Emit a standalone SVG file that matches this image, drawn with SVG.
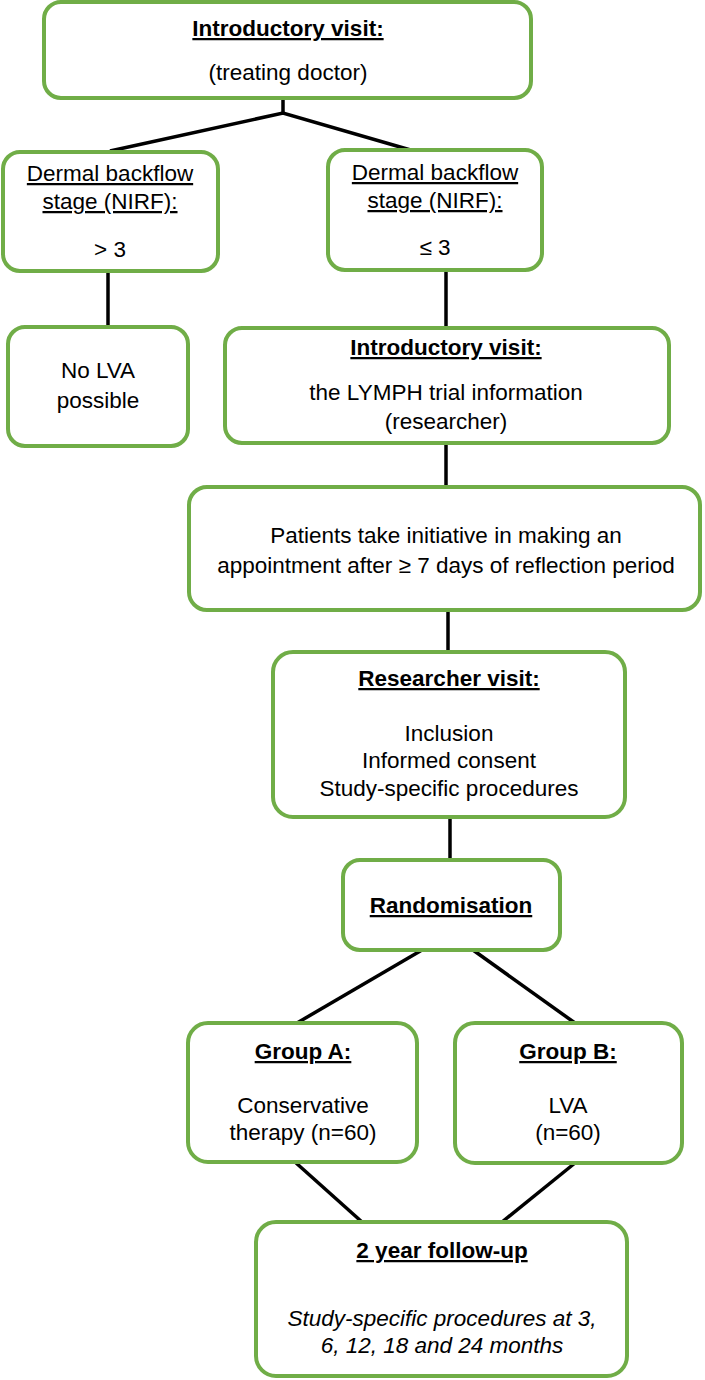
<svg xmlns="http://www.w3.org/2000/svg" width="705" height="1380" viewBox="0 0 705 1380">
<style>
.box{fill:#fff;stroke:#70AD47;stroke-width:4}
.con{stroke:#000;stroke-width:3.5;fill:none;stroke-linecap:butt;stroke-linejoin:miter}
text{font-family:"Liberation Sans",Arial,sans-serif;font-size:22.5px;fill:#000;text-anchor:middle}
.t{font-weight:bold;text-decoration:underline}
.u{text-decoration:underline}
.i{font-style:italic}
</style>
<rect width="705" height="1380" fill="#fff"/>
<g id="connectors">
<polyline class="con" points="283,98 283,113"/>
<polyline class="con" points="110,151 283,113 414,151"/>
<line class="con" x1="108" y1="271" x2="108" y2="327"/>
<line class="con" x1="446" y1="270" x2="446" y2="328"/>
<line class="con" x1="446" y1="443" x2="446" y2="487"/>
<line class="con" x1="448" y1="610" x2="448" y2="652"/>
<line class="con" x1="450" y1="817" x2="450" y2="860"/>
<line class="con" x1="422" y1="950" x2="297" y2="1023"/>
<line class="con" x1="473" y1="950" x2="575" y2="1023"/>
<line class="con" x1="295" y1="1162" x2="362" y2="1222"/>
<line class="con" x1="575" y1="1163" x2="502" y2="1222"/>
</g>
<g id="n1">
<rect class="box" x="44" y="2" width="487" height="96" rx="17"/>
<text x="288" y="36" class="t">Introductory visit:</text>
<text x="288" y="80">(treating doctor)</text>
</g>
<g id="n2">
<rect class="box" x="3" y="152" width="215" height="119" rx="17"/>
<text x="110" y="181" class="u">Dermal backflow</text>
<text x="110" y="209" class="u">stage (NIRF):</text>
<text x="110" y="257">&gt; 3</text>
</g>
<g id="n3">
<rect class="box" x="328" y="150" width="214" height="120" rx="17"/>
<text x="435" y="180" class="u">Dermal backflow</text>
<text x="435" y="208" class="u">stage (NIRF):</text>
<text x="435" y="255">≤ 3</text>
</g>
<g id="n4">
<rect class="box" x="8" y="327" width="180" height="119" rx="17"/>
<text x="98" y="378">No LVA</text>
<text x="98" y="408">possible</text>
</g>
<g id="n5">
<rect class="box" x="225" y="328" width="444" height="115" rx="17"/>
<text x="446" y="355" class="t">Introductory visit:</text>
<text x="446" y="400">the LYMPH trial information</text>
<text x="446" y="429">(researcher)</text>
</g>
<g id="n6">
<rect class="box" x="189" y="487" width="511" height="123" rx="18"/>
<text x="446" y="543">Patients take initiative in making an</text>
<text x="446" y="573">appointment after ≥ 7 days of reflection period</text>
</g>
<g id="n7">
<rect class="box" x="273" y="652" width="352" height="165" rx="20"/>
<text x="449" y="686" class="t">Researcher visit:</text>
<text x="449" y="741">Inclusion</text>
<text x="449" y="768">Informed consent</text>
<text x="449" y="796">Study-specific procedures</text>
</g>
<g id="n8">
<rect class="box" x="343" y="860" width="217" height="90" rx="17"/>
<text x="451" y="913" class="t">Randomisation</text>
</g>
<g id="n9">
<rect class="box" x="188" y="1023" width="229" height="139" rx="20"/>
<text x="303" y="1059" class="t">Group A:</text>
<text x="303" y="1113">Conservative</text>
<text x="303" y="1140">therapy (n=60)</text>
</g>
<g id="n10">
<rect class="box" x="455" y="1023" width="227" height="140" rx="20"/>
<text x="568" y="1059" class="t">Group B:</text>
<text x="568" y="1113">LVA</text>
<text x="568" y="1140">(n=60)</text>
</g>
<g id="n11">
<rect class="box" x="256" y="1222" width="371" height="154" rx="20"/>
<text x="442" y="1258" class="t">2 year follow-up</text>
<text x="442" y="1326" class="i">Study-specific procedures at 3,</text>
<text x="442" y="1353" class="i">6, 12, 18 and 24 months</text>
</g>
</svg>
